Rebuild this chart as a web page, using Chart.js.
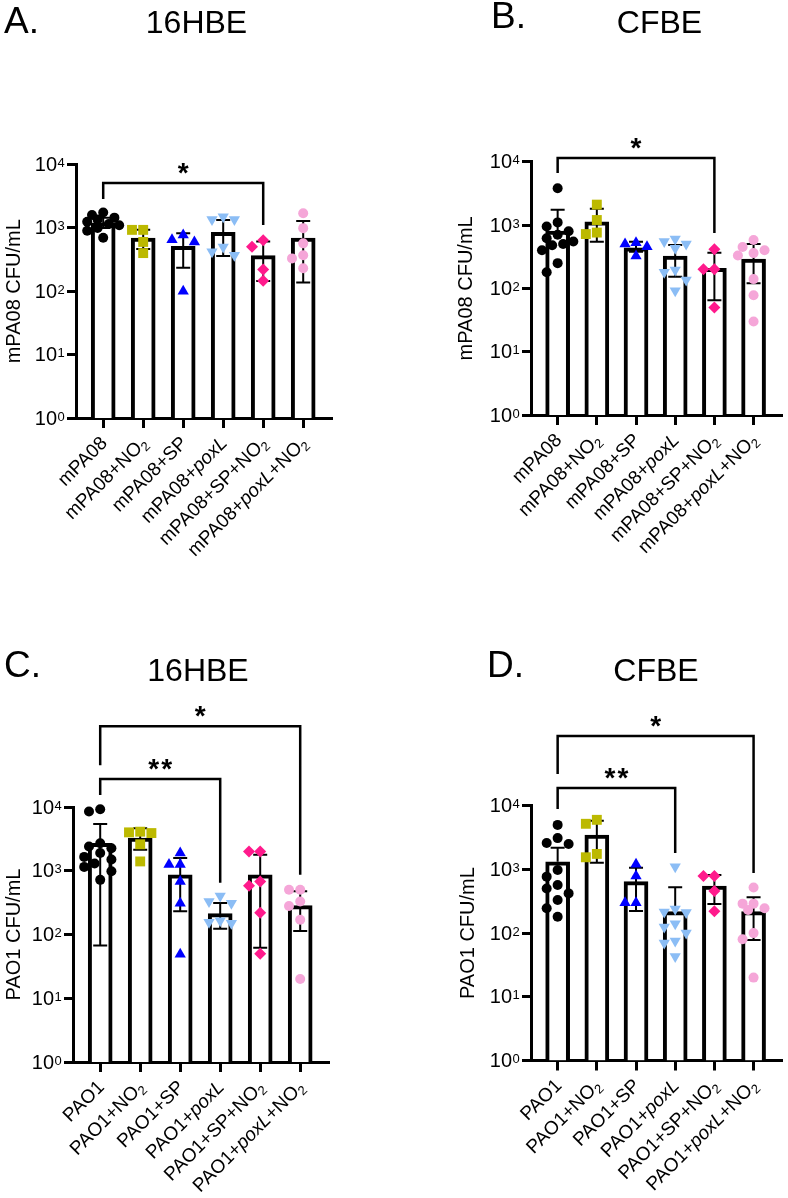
<!DOCTYPE html>
<html>
<head>
<meta charset="utf-8">
<script src="https://cdn.jsdelivr.net/npm/chart.js@4.4.0/dist/chart.umd.min.js"></script>
<style>
  body { margin: 0; background: #fff; }
  #wrap { position: relative; width: 788px; height: 1198px; }
  canvas { position: absolute; }
</style>
</head>
<body>
<div id="wrap">
  <canvas id="cA" width="394" height="599" style="left:0;top:0"></canvas>
  <canvas id="cB" width="394" height="599" style="left:394px;top:0"></canvas>
  <canvas id="cC" width="394" height="599" style="left:0;top:599px"></canvas>
  <canvas id="cD" width="394" height="599" style="left:394px;top:599px"></canvas>
</div>
<script>
// categories
const catsM = ['mPA08', 'mPA08+NO2', 'mPA08+SP', 'mPA08+poxL', 'mPA08+SP+NO2', 'mPA08+poxL+NO2'];
const catsP = ['PAO1', 'PAO1+NO2', 'PAO1+SP', 'PAO1+poxL', 'PAO1+SP+NO2', 'PAO1+poxL+NO2'];
const yTicks = [1, 10, 100, 1000, 10000];

// A. mPA08 / 16HBE
const meanA = [1200, 690, 510, 850, 365, 690];
const hiA = [1450, 930, 820, 1330, 610, 1280];
const loA = [1000, 465, 235, 360, 145, 137];
const ptsA = [
  [1750, 1600, 1450, 1350, 1250, 1150, 1100, 1000, 900, 700],
  [930, 930, 600, 400],
  [770, 650, 600, 100],
  [1500, 1350, 1350, 500, 420, 370],
  [640, 505, 220, 147],
  [1700, 990, 570, 370, 330, 230]
];
const sigA = [[0, 4, 5100, 2860, 1110, '*']];

// B. mPA08 / CFBE
const meanB = [804, 1128, 438, 324, 207, 290];
const hiB = [1750, 1800, 545, 483, 365, 500];
const loB = [null, 545, 379, 152, 65, 120];
const ptsB = [
  [3800, 1100, 950, 800, 700, 620, 550, 500, 480, 400, 250, 180],
  [2100, 1200, 760, 720],
  [525, 500, 455, 325],
  [600, 550, 500, 430, 195, 180, 135, 92],
  [413, 200, 200, 50],
  [580, 450, 400, 360, 330, 140, 78, 30]
];
const sigB = [[0, 4, 11400, 6630, 748, '*']];

// C. PAO1 / 16HBE
const meanC = [2700, 3240, 866, 213, 866, 284];
const hiC = [5420, 4650, 1580, 313, 1778, 475];
const loC = [67, 2130, 232, 123, 62, 113];
const ptsC = [
  [9200, 8500, 2700, 2400, 2250, 1900, 1650, 1500, 1300, 1150, 980, 720],
  [4100, 4000, 3900, 2600, 1400],
  [1900, 1250, 1250, 680, 310, 49],
  [400, 330, 310, 165, 155, 150],
  [2000, 2000, 680, 580, 220, 50],
  [505, 505, 330, 280, 170, 20]
];
const sigC = [[0, 5, 185000, 45000, 866, '*'], [0, 3, 27400, 15400, 650, '**']];

// D. PAO1 / CFBE
const meanD = [1320, 3470, 641, 217, 549, 217];
const hiD = [2190, 5820, 1064, 523, 817, 365];
const loD = [null, 1274, 222, null, 286, 78];
const ptsD = [
  [5000, 3100, 2600, 2500, 980, 770, 570, 500, 420, 330, 245, 180],
  [6000, 5200, 1750, 1550],
  [1200, 790, 300, 300],
  [1100, 240, 215, 210, 140, 125, 100, 75, 70, 43],
  [790, 790, 460, 220],
  [520, 290, 290, 245, 230, 100, 80, 20]
];
const sigD = [[0, 5, 124000, 31500, 879, '*'], [0, 3, 19000, 8870, 1816, '**']];

const FONT = '"Liberation Sans", Arial, Helvetica, sans-serif';
const groupStyle = [
  { pointStyle: 'circle', color: '#000000', r: 5 },
  { pointStyle: 'rect', color: '#bcb900', r: 7 },
  { pointStyle: 'triangle', color: '#0000ff', r: 6.5 },
  { pointStyle: 'triangle', color: '#8bbdf5', r: 6.5, rot: 180 },
  { pointStyle: 'rectRot', color: '#ff1a8c', r: 6 },
  { pointStyle: 'circle', color: '#f5a6d8', r: 5 }
];

// spread points of a group side by side (Prism-like scatter)
function swarm(vals) {
  const order = vals.map((v, i) => i).sort((a, b) => vals[b] - vals[a]);
  const offs = vals.map(() => 0);
  const placed = [];
  const cand = [0, -0.28, 0.28, -0.14, 0.14, -0.4, 0.4];
  order.forEach(i => {
    const yp = Math.log10(vals[i]) * 63.5;
    let best = 0, bestD = -1;
    for (const c of cand) {
      let d = Infinity;
      placed.forEach(p => { d = Math.min(d, Math.hypot((c - p.o) * 40, yp - p.y)); });
      if (d >= 10.5) { best = c; break; }
      if (d > bestD) { bestD = d; best = c; }
    }
    offs[i] = best;
    placed.push({ o: best, y: yp });
  });
  return offs;
}

function segments(label) {
  const out = [];
  label.split(/(poxL|NO2)/).forEach(p => {
    if (!p) return;
    if (p === 'poxL') out.push({ t: 'poxL', it: true });
    else if (p === 'NO2') { out.push({ t: 'NO' }); out.push({ t: '2', sub: true }); }
    else out.push({ t: p });
  });
  return out;
}

function drawLabel(ctx, text, x, y) {
  const segs = segments(text);
  const fontOf = s => s.sub ? '13px ' + FONT : (s.it ? 'italic ' : '') + '19px ' + FONT;
  let w = 0;
  segs.forEach(s => { ctx.font = fontOf(s); s.w = ctx.measureText(s.t).width; w += s.w; });
  ctx.save();
  ctx.translate(x, y);
  ctx.rotate(-Math.PI / 4);
  ctx.textAlign = 'left';
  ctx.textBaseline = 'alphabetic';
  let cx = -w;
  segs.forEach(s => { ctx.font = fontOf(s); ctx.fillText(s.t, cx, s.sub ? 4 : 0); cx += s.w; });
  ctx.restore();
}

const extra = {};

const figPlugin = {
  id: 'fig',
  afterDatasetDraw(chart, args) {
    if (args.meta.type !== 'bar') return;
    const m = extra[chart.canvas.id];
    const ctx = chart.ctx, xs = chart.scales.x, ys = chart.scales.y;
    ctx.save();
    ctx.strokeStyle = '#000';
    ctx.lineWidth = 2;
    m.hi.forEach((h, i) => {
      const x = xs.getPixelForValue(i);
      const yTop = ys.getPixelForValue(h);
      const yBot = ys.getPixelForValue(m.lo[i] == null ? m.mean[i] : m.lo[i]);
      ctx.beginPath();
      ctx.moveTo(x, yBot); ctx.lineTo(x, yTop);
      ctx.moveTo(x - 7, yTop); ctx.lineTo(x + 7, yTop);
      if (m.lo[i] != null) { ctx.moveTo(x - 7, yBot); ctx.lineTo(x + 7, yBot); }
      ctx.stroke();
    });
    ctx.restore();
  },
  afterDraw(chart) {
    const m = extra[chart.canvas.id];
    const ctx = chart.ctx, xs = chart.scales.x, ys = chart.scales.y, area = chart.chartArea;
    ctx.save();
    ctx.fillStyle = '#000';
    ctx.strokeStyle = '#000';

    // y tick labels 10^n
    ys.ticks.forEach(t => {
      const y = ys.getPixelForValue(t.value);
      const xr = area.left - 19;
      ctx.font = '20px ' + FONT;
      ctx.textAlign = 'right';
      ctx.textBaseline = 'middle';
      ctx.fillText('10', xr, y + 1);
      ctx.font = '13px ' + FONT;
      ctx.textAlign = 'left';
      ctx.textBaseline = 'alphabetic';
      ctx.fillText(String(Math.round(Math.log10(t.value))), xr + 0.5, y + 2.5);
    });

    // x category labels
    xs.ticks.forEach(t => {
      drawLabel(ctx, m.cats[t.value], xs.getPixelForValue(t.value) + 5, area.bottom + 26);
    });

    // significance brackets
    ctx.lineWidth = 2.5;
    m.sig.forEach(([a, b, yv, yl, yr, txt]) => {
      const xa = xs.getPixelForValue(a), xb = xs.getPixelForValue(b);
      const yb = ys.getPixelForValue(yv);
      ctx.beginPath();
      ctx.moveTo(xa, ys.getPixelForValue(yl));
      ctx.lineTo(xa, yb);
      ctx.lineTo(xb, yb);
      ctx.lineTo(xb, ys.getPixelForValue(yr));
      ctx.stroke();
      ctx.font = 'bold 28px ' + FONT;
      ctx.textAlign = 'center';
      ctx.textBaseline = 'alphabetic';
      const mid = (xa + xb) / 2;
      const n = txt.length;
      for (let k = 0; k < n; k++) ctx.fillText(txt[k], mid + (k - (n - 1) / 2) * 13, yb - 1);
    });

    // panel letter and title
    ctx.textBaseline = 'alphabetic';
    ctx.font = '37px ' + FONT;
    ctx.textAlign = 'left';
    ctx.fillText(m.letter, m.letterPos[0], m.letterPos[1]);
    ctx.font = '32px ' + FONT;
    ctx.textAlign = 'center';
    ctx.fillText(m.title, m.titlePos[0], m.titlePos[1]);
    ctx.restore();
  }
};

const xMin = -0.68, xMax = 5.7, unitPx = 40;

function makePanel(p) {
  extra[p.id] = p;
  const W = 394, H = 599;
  const plotW = (xMax - xMin) * unitPx;
  const datasets = [{
    type: 'bar',
    order: 10,
    data: p.mean.map((v, i) => ({ x: i, y: v })),
    backgroundColor: '#ffffff',
    borderColor: '#000000',
    borderWidth: 4,
    borderSkipped: 'start',
    barThickness: 24
  }];
  p.pts.forEach((vals, g) => {
    const offs = swarm(vals);
    const st = groupStyle[g];
    datasets.push({
      type: 'scatter',
      order: 1,
      clip: false,
      data: vals.map((v, k) => ({ x: g + offs[k], y: v })),
      pointStyle: st.pointStyle,
      pointRadius: st.r,
      pointRotation: st.rot || 0,
      pointBackgroundColor: st.color,
      pointBorderWidth: 0,
      pointBorderColor: st.color
    });
  });

  new Chart(document.getElementById(p.id), {
    type: 'bar',
    data: { datasets },
    plugins: [figPlugin],
    options: {
      responsive: false,
      animation: false,
      devicePixelRatio: 1,
      layout: { padding: { left: p.padL, top: p.top, right: W - p.axisX - plotW, bottom: 0 } },
      plugins: { legend: { display: false }, tooltip: { enabled: false } },
      scales: {
        x: {
          type: 'linear',
          min: xMin,
          max: xMax,
          offset: false,
          afterBuildTicks: s => { s.ticks = p.cats.map((c, i) => ({ value: i })); },
          afterFit: s => { s.height = H - p.bottom; },
          ticks: { display: false },
          grid: { offset: false, drawOnChartArea: false, drawTicks: true, tickLength: 10, lineWidth: 3, color: '#000' },
          border: { display: true, width: 3, color: '#000' }
        },
        y: {
          type: 'logarithmic',
          position: 'left',
          min: 1,
          max: 10000,
          afterBuildTicks: s => { s.ticks = yTicks.map(v => ({ value: v })); },
          afterFit: s => { s.width = p.axisX - p.padL; },
          ticks: { display: false },
          grid: { drawOnChartArea: false, drawTicks: true, tickLength: 9, lineWidth: 3, color: '#000' },
          border: { display: true, width: 3, color: '#000' },
          title: {
            display: true,
            text: p.yTitle,
            color: '#000',
            font: { family: FONT, size: 20 },
            padding: { top: 2, bottom: 0 }
          }
        }
      }
    }
  });
}

makePanel({ id: 'cA', cats: catsM, mean: meanA, hi: hiA, lo: loA, pts: ptsA, sig: sigA,
  yTitle: 'mPA08 CFU/mL', letter: 'A.', title: '16HBE',
  padL: 0, axisX: 76, top: 164.5, bottom: 418, letterPos: [4, 33], titlePos: [196.5, 33] });
makePanel({ id: 'cB', cats: catsM, mean: meanB, hi: hiB, lo: loB, pts: ptsB, sig: sigB,
  yTitle: 'mPA08 CFU/mL', letter: 'B.', title: 'CFBE',
  padL: 58, axisX: 137, top: 161.7, bottom: 415, letterPos: [97, 28], titlePos: [265.5, 33] });
makePanel({ id: 'cC', cats: catsP, mean: meanC, hi: hiC, lo: loC, pts: ptsC, sig: sigC,
  yTitle: 'PAO1 CFU/mL', letter: 'C.', title: '16HBE',
  padL: 0, axisX: 73, top: 208, bottom: 463, letterPos: [4, 78], titlePos: [198, 82] });
makePanel({ id: 'cD', cats: catsP, mean: meanD, hi: hiD, lo: loD, pts: ptsD, sig: sigD,
  yTitle: 'PAO1 CFU/mL', letter: 'D.', title: 'CFBE',
  padL: 60, axisX: 137, top: 206.7, bottom: 461.5, letterPos: [93, 78], titlePos: [262, 82] });
</script>
</body>
</html>
